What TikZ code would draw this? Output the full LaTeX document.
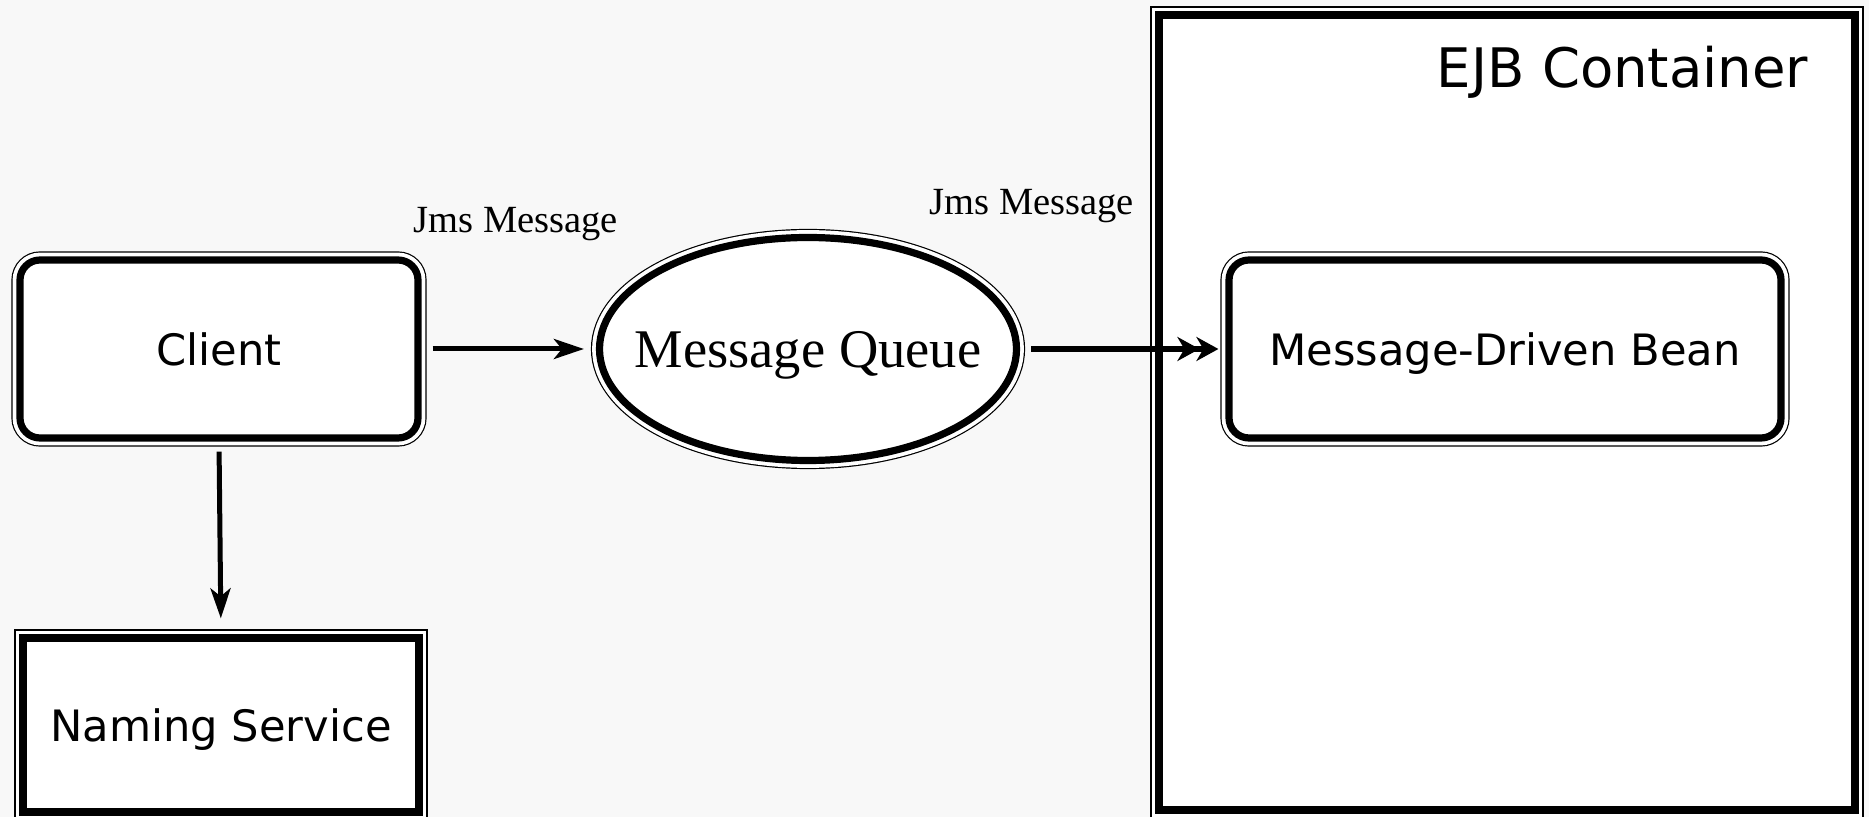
\documentclass[tikz,border=0pt]{standalone}
\usepackage{fontspec}
\setmainfont{Liberation Serif}
\newfontfamily\boxfont{DejaVu Sans}
\usetikzlibrary{arrows.meta,shapes.geometric}

\definecolor{paper}{RGB}{248,248,248}

\tikzset{
    dblbox/.style={
        preaction={draw, line width=1.72mm},
        preaction={draw, white, line width=1.48mm},
        fill=white, draw, line width=0.72mm, inner sep=0pt, text depth=0pt
    },
    roundbox/.style={dblbox, rounded corners=2mm,
        font=\boxfont\fontsize{12.3pt}{14pt}\selectfont},
    squarebox/.style={dblbox,
        font=\boxfont\fontsize{12.3pt}{14pt}\selectfont},
    link/.style={line width=0.5mm, shorten <=1.1mm,
        -{Stealth[length=3mm, width=2mm, inset=0.8mm]}},
    msglabel/.style={anchor=base west, inner sep=0pt,
        font=\fontsize{10.95pt}{13pt}\selectfont}
}

\begin{document}
\begin{tikzpicture}[
        x=0.1mm,
        y=-0.1mm
    ]
    \fill[paper] (0,0) rectangle (1869,817);
    \useasboundingbox (0,0) rectangle (1869,817);

    % container and the bean inside it
    \node (ejb) [dblbox, minimum width=69.6mm, minimum height=79.5mm] at (1507,412.5) {};
    \node (ejblabel) [anchor=base east, inner sep=0pt,
        font=\boxfont\fontsize{15.5pt}{18pt}\selectfont] at (1809,88) {EJB Container};
    \node (mdb) [roundbox, minimum width=55.2mm, minimum height=17.8mm] at (1505,349) {Message-Driven Bean};

    \node (client) [roundbox, minimum width=39.8mm, minimum height=17.8mm] at (219,349) {Client};
    \node (naming) [squarebox, minimum width=39.6mm, minimum height=17.4mm] at (221,725) {Naming Service};
    \node (queue) [dblbox, ellipse, inner xsep=-3mm, minimum width=41.7mm, minimum height=22.3mm,
        font=\fontsize{15.5pt}{18pt}\selectfont] at (808,349) {Message Queue};

    \node (jmsin) [msglabel] at (413,233) {Jms Message};
    \node (jmsout) [msglabel] at (929,215) {Jms Message};

    \draw[link, shorten >=1.2mm] (client.east) -- (queue.west);
    \draw[link, shorten <=1mm, shorten >=1.6mm] (client.south) -- (naming.north);
    \draw[line width=0.55mm, shorten <=1.1mm, shorten >=0.7mm,
        -{Stealth[length=2.2mm, width=2.4mm, inset=0.7mm, sep=-0.3mm]Stealth[length=2.2mm, width=2.4mm, inset=0.7mm]}]
        (queue.east) -- (mdb.west);
\end{tikzpicture}
\end{document}
